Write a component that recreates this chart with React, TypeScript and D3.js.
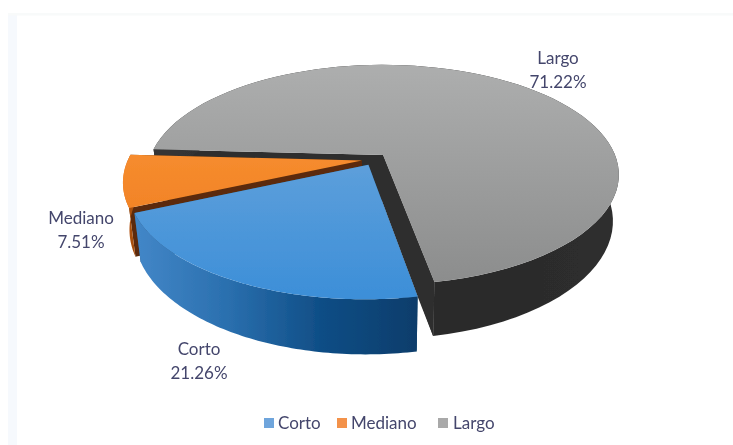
import React from "react";
import * as d3 from "d3";

const categories = ["Corto", "Mediano", "Largo"];
const shares = [21.26, 7.51, 71.22];
const shareLabels = ["21.26%", "7.51%", "71.22%"];
const topColors = [["#5fa0db", "#3d8fd8"], ["#f68c2e", "#ec761c"], ["#adaeae", "#8c8d8d"]];
const legendColors = ["#6fa5dc", "#f3924a", "#a9a9a9"];
const wallStops = [
  ["#4387c8", "#2a6fae", "#0f4d85", "#0a3d6b"],
  ["#ee8225", "#d9701e", "#c26015", "#a85010"],
  ["#363636", "#2b2b2b", "#2a2a2a", "#2e2e2e"],
];
const radialWalls = ["#2a4f75", "#5c2c08", "#2e2e2e"];
const labelAnchors: [number, number][] = [[199, 350], [81, 219], [558, 59]];
const legendMarks = [264, 337, 438];
const legendTexts = [278, 351, 453];

const W = 733, H = 445;
const startDeg = 169.5;
const explode = 0.055;
const px = 383, py = 155, bx = 232, by = 106.4, persp = 0.18;

const pieGen = d3.pie<number>().sort(null).startAngle((startDeg * Math.PI) / 180).endAngle(((startDeg + 360) * Math.PI) / 180);
const arcs = pieGen(shares);
const largoMid = (arcs[2].startAngle + arcs[2].endAngle) / 2;
const u0 = -explode * Math.sin(largoMid);
const v0 = explode * Math.cos(largoMid);

const top = (u: number, v: number): [number, number] => {
  const w = 1 - persp * v;
  return [px + (bx * u) / w, py + (by * v) / w];
};
const bottom = (u: number, v: number): [number, number] => {
  const [x, y] = top(u, v);
  return [px + (x - px) * 0.975, py + 45 + (y - py) * 1.07];
};
const path = d3.line<[number, number]>();

function geometry(a: d3.PieArcDatum<number>) {
  const mid = (a.startAngle + a.endAngle) / 2;
  const ou = u0 + explode * Math.sin(mid);
  const ov = v0 - explode * Math.cos(mid);
  const rim = d3.range(0, 81).map((i) => {
    const t = a.startAngle + ((a.endAngle - a.startAngle) * i) / 80;
    return [ou + Math.sin(t), ov - Math.cos(t)] as [number, number];
  });
  return { ou, ov, rim };
}

export default function App() {
  const geos = arcs.map(geometry);
  const order = [2, 1, 0];
  const corto = geos[0], largo = geos[2];
  const largoEnd = largo.rim[largo.rim.length - 1];
  // the dark cut face of Largo fills the notch down to Corto's straight edge
  const notch: [number, number][] = [
    top(largo.ou, largo.ov),
    top(largoEnd[0], largoEnd[1]),
    bottom(largoEnd[0], largoEnd[1]),
    top(corto.rim[0][0], corto.rim[0][1]),
    top(corto.ou, corto.ov),
  ];
  return (
    <svg width={W} height={H} style={{ position: "fixed", left: 0, top: 0, background: "#fff" }}>
      <defs>
        <filter id="soft" x="-5%" y="-5%" width="110%" height="110%">
          <feGaussianBlur stdDeviation="0.55" />
        </filter>
        {categories.map((c, i) => (
          <linearGradient key={c} id={`top${i}`} gradientUnits="userSpaceOnUse" x1="0" x2="0" y1={i === 2 ? 65 : 155} y2={i === 2 ? 282 : 295}>
            <stop offset="0" stopColor={topColors[i][0]} />
            <stop offset="1" stopColor={topColors[i][1]} />
          </linearGradient>
        ))}
        {categories.map((c, i) => {
          const xs = geos[i].rim.map((p) => top(p[0], p[1])[0]);
          return (
            <linearGradient key={c} id={`wall${i}`} gradientUnits="userSpaceOnUse" x1={d3.min(xs)} x2={d3.max(xs)} y1="0" y2="0">
              {wallStops[i].map((s, k) => (
                <stop key={k} offset={k / 3} stopColor={s} />
              ))}
            </linearGradient>
          );
        })}
      </defs>
      <rect x="8" y="13" width="9" height="432" fill="#f6f9fd" />
      <rect x="8" y="13" width="725" height="2.5" fill="#f8fafa" />
      <g filter="url(#soft)">
        {order.map((i) => {
          const { ou, ov, rim } = geos[i];
          const apexT = top(ou, ov);
          const apexB = bottom(ou, ov);
          const first = rim[0], last = rim[rim.length - 1];
          const topRim = rim.map((p) => top(p[0], p[1]));
          const botRim = rim.map((p) => bottom(p[0], p[1])).reverse();
          const radialA = [apexT, top(first[0], first[1]), bottom(first[0], first[1]), apexB] as [number, number][];
          const radialB = [apexT, top(last[0], last[1]), bottom(last[0], last[1]), apexB] as [number, number][];
          return (
            <g key={categories[i]}>
              <path d={path(radialA)! + "Z"} fill={radialWalls[i]} />
              <path d={path(radialB)! + "Z"} fill={radialWalls[i]} />
              {i === 2 && <path d={path(notch)! + "Z"} fill={radialWalls[2]} />}
              <path d={path([...topRim, ...botRim])! + "Z"} fill={`url(#wall${i})`} />
              <path d={path([apexT, ...topRim])! + "Z"} fill={`url(#top${i})`} />
            </g>
          );
        })}
      </g>
      <g fontFamily="Lato, 'Open Sans', sans-serif" fontSize="17" fill="#44466c" textAnchor="middle" style={{ filter: "blur(0.35px)" }}>
        {categories.map((c, i) => (
          <g key={c}>
            <text x={labelAnchors[i][0]} y={labelAnchors[i][1] + 5}>{c}</text>
            <text x={labelAnchors[i][0]} y={labelAnchors[i][1] + 29}>{shareLabels[i]}</text>
          </g>
        ))}
      </g>
      <g fontFamily="Lato, 'Open Sans', sans-serif" fontSize="17" fill="#44466c" style={{ filter: "blur(0.35px)" }}>
        {categories.map((c, i) => (
          <g key={c}>
            <rect x={legendMarks[i]} y={418} width={10} height={10} fill={legendColors[i]} />
            <text x={legendTexts[i]} y={428.5}>{c}</text>
          </g>
        ))}
      </g>
    </svg>
  );
}
